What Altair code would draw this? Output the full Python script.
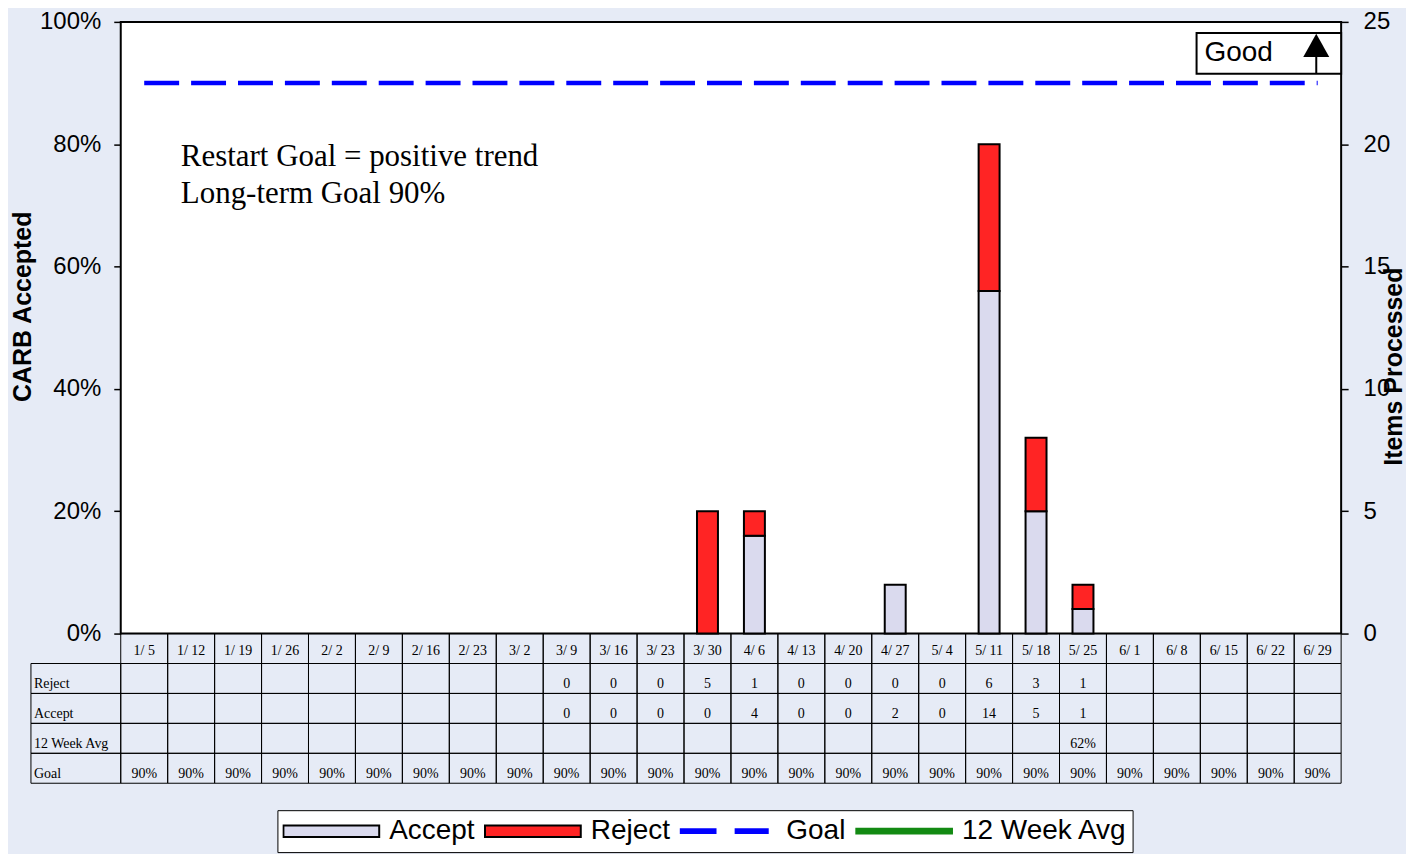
import altair as alt
import pandas as pd

# ---------------- data ----------------
WEEKS = ["1/ 5", "1/ 12", "1/ 19", "1/ 26", "2/ 2", "2/ 9", "2/ 16", "2/ 23", "3/ 2",
         "3/ 9", "3/ 16", "3/ 23", "3/ 30", "4/ 6", "4/ 13", "4/ 20", "4/ 27", "5/ 4",
         "5/ 11", "5/ 18", "5/ 25", "6/ 1", "6/ 8", "6/ 15", "6/ 22", "6/ 29"]
REJECT = [None] * 9 + [0, 0, 0, 5, 1, 0, 0, 0, 0, 6, 3, 1] + [None] * 5
ACCEPT = [None] * 9 + [0, 0, 0, 0, 4, 0, 0, 2, 0, 14, 5, 1] + [None] * 5
AVG_12WK = [None] * 20 + [0.62] + [None] * 5
GOAL = [0.90] * 26

SERIES = ["Accept", "Reject", "Goal", "12 Week Avg"]
SERIES_COLORS = ["#dadaee", "#ff2424", "#0000ff", "#138a13"]
TABLE_ROWS = ["Reject", "Accept", "12 Week Avg", "Goal"]
RIGHT_TICKS = [0, 5, 10, 15, 20, 25]
NOTE_LINES = ["Restart Goal = positive trend", "Long-term Goal 90%"]
GOOD_LABEL = "Good"
LEFT_TITLE = "CARB Accepted"
RIGHT_TITLE = "Items Processed"

# ---------------- layout constants ----------------
N = len(WEEKS)
ITEMS_MAX = 25          # right-axis maximum, equal to 100 % on the left axis
LABEL_COL = 1.913       # width of the table's row-label column, in week units
PLOT_W = 1313
PLOT_H = 613
TABLE_H = 150
BG = "#e6ebf6"
SANS = "Liberation Sans"
SERIF = "Liberation Serif"

x_scale = alt.Scale(domain=[-LABEL_COL, N], nice=False, zero=False, padding=0)
y_scale = alt.Scale(domain=[0, ITEMS_MAX], nice=False, zero=False, padding=0)


def X(field):
    return alt.X(field, type="quantitative", scale=x_scale, axis=None)


def Y(field, axis=None, **kw):
    return alt.Y(field, type="quantitative", scale=y_scale, axis=axis, **kw)


# ---------------- legend (per-entry symbols through expressions) ----------------
def pick(a, r, g, w):
    return ("datum.value === 'Accept' ? %s : datum.value === 'Reject' ? %s : "
            "datum.value === 'Goal' ? %s : %s" % (a, r, g, w))


RECT_PATH = "'M-1,-0.12H1V0.12H-1Z'"
GOAL_PATH = "'M-1,-0.04H-0.27V0.04H-1ZM0.15,-0.04H0.82V0.04H0.15Z'"
AVG_PATH = "'M-1,-0.05H1V0.05H-1Z'"
q = lambda c: "'%s'" % c
SHAPE_EXPR = pick(RECT_PATH, RECT_PATH, GOAL_PATH, AVG_PATH)
STROKE_EXPR = pick("'black'", "'black'", q(SERIES_COLORS[2]), q(SERIES_COLORS[3]))

legend = alt.Legend(
    title=None, orient="none", legendX=247, legendY=790, direction="horizontal",
    fillColor="white", strokeColor="black", padding=5,
    labelFont=SANS, labelFontSize=28, labelColor="black", labelOffset=9, labelLimit=0,
    symbolSize=9216, clipHeight=32, columnPadding=9, symbolStrokeWidth=2,
    symbolType={"expr": SHAPE_EXPR}, symbolStrokeColor={"expr": STROKE_EXPR},
    symbolOpacity=1,
)
color_enc = alt.Color("series:N", scale=alt.Scale(domain=SERIES, range=SERIES_COLORS),
                      legend=legend)

left_axis = alt.Axis(
    orient="left", offset=-LABEL_COL * PLOT_W / (N + LABEL_COL), values=RIGHT_TICKS,
    labelExpr="format(datum.value * 100 / %d, 'd') + '%%'" % ITEMS_MAX,
    domain=False, grid=False, ticks=True, tickSize=7, tickColor="black", tickWidth=1.5,
    labelFont=SANS, labelFontSize=24, labelColor="black", labelPadding=13,
    title=LEFT_TITLE, titleFont=SANS, titleFontSize=25, titleFontWeight="bold",
    titleColor="black", titleAngle=270, titleX=-98, titleY=285,
    titleAlign="center", titleBaseline="middle",
)
right_axis = alt.Axis(
    orient="right", values=RIGHT_TICKS, format="d",
    domain=False, grid=False, ticks=True, tickSize=7, tickColor="black", tickWidth=1.5,
    labelFont=SANS, labelFontSize=24, labelColor="black", labelPadding=15,
    title=RIGHT_TITLE, titleFont=SANS, titleFontSize=25, titleFontWeight="bold",
    titleColor="black", titleAngle=270, titleX=52, titleY=345,
    titleAlign="center", titleBaseline="middle",
)

# ---------------- main plot ----------------
plot_bg = alt.Chart(pd.DataFrame({"x0": [0], "x1": [N], "y0": [0], "y1": [ITEMS_MAX]})).mark_rect(
    fill="white", stroke="black", strokeWidth=2
).encode(x=X("x0"), x2="x1", y=Y("y0"), y2="y1")

bar_rows = []
for i, w in enumerate(WEEKS):
    for s, vals, o in (("Accept", ACCEPT, 0), ("Reject", REJECT, 1)):
        v = vals[i]
        if v is not None:
            bar_rows.append({"week": w, "xc": i + 0.5, "series": s, "n": v, "ord": o})
bars_df = pd.DataFrame(bar_rows)

bars = alt.Chart(bars_df).transform_filter("datum.n > 0").mark_bar(
    width=21, stroke="black", strokeWidth=2
).encode(
    x=X("xc"),
    y=Y("n", axis=left_axis, stack="zero"),
    color=color_enc,
    order=alt.Order("ord:Q"),
)

goal_df = pd.DataFrame({"xc": [i + 0.5 for i in range(N)],
                        "v": [g * ITEMS_MAX for g in GOAL]})
goal = alt.Chart(goal_df).mark_line(
    strokeDash=[35, 12], strokeWidth=4.5, color=SERIES_COLORS[2]
).encode(x=X("xc"), y=Y("v", axis=right_axis))

avg_df = pd.DataFrame([{"xc": i + 0.5, "v": a * ITEMS_MAX}
                       for i, a in enumerate(AVG_12WK) if a is not None])
avg = alt.Chart(avg_df).mark_line(strokeWidth=5, color=SERIES_COLORS[3]).encode(
    x=X("xc"), y=Y("v"))

note_df = pd.DataFrame({"x": [1.28, 1.28], "y": [19.13, 17.58], "t": NOTE_LINES})
note = alt.Chart(note_df).mark_text(
    align="left", baseline="alphabetic", font=SERIF, fontSize=31, color="black"
).encode(x=X("x"), y=Y("y"), text="t:N")

good_box = alt.Chart(pd.DataFrame({"x0": [22.92], "x1": [N], "y0": [22.88], "y1": [24.55]})).mark_rect(
    fill="white", stroke="black", strokeWidth=2
).encode(x=X("x0"), x2="x1", y=Y("y0"), y2="y1")
good_text = alt.Chart(pd.DataFrame({"x": [23.09], "y": [23.72], "t": [GOOD_LABEL]})).mark_text(
    align="left", baseline="middle", font=SANS, fontSize=28, color="black"
).encode(x=X("x"), y=Y("y"), text="t:N")
good_stem = alt.Chart(pd.DataFrame({"x": [25.47], "y0": [22.88], "y1": [23.8]})).mark_rule(
    color="black", strokeWidth=2
).encode(x=X("x"), y=Y("y0"), y2="y1")
good_head = alt.Chart(pd.DataFrame({"x": [25.47], "y": [24.04]})).mark_point(
    shape="M0,-0.9L1,0.9L-1,0.9Z", size=676, filled=True, color="black", opacity=1
).encode(x=X("x"), y=Y("y"))

main = alt.layer(
    plot_bg, bars, goal, avg, note, good_box, good_stem, good_head, good_text
).resolve_axis(y="independent").properties(width=PLOT_W, height=PLOT_H)

# ---------------- data table ----------------
ROW_IDS = ["hdr"] + TABLE_ROWS
cells = []
for i, w in enumerate(WEEKS):
    cells.append({"row": "hdr", "x0": i, "x1": i + 1, "txt": w})
    r, a, v, g = REJECT[i], ACCEPT[i], AVG_12WK[i], GOAL[i]
    cells.append({"row": "Reject", "x0": i, "x1": i + 1, "txt": "" if r is None else str(r)})
    cells.append({"row": "Accept", "x0": i, "x1": i + 1, "txt": "" if a is None else str(a)})
    cells.append({"row": "12 Week Avg", "x0": i, "x1": i + 1,
                  "txt": "" if v is None else "%d%%" % round(v * 100)})
    cells.append({"row": "Goal", "x0": i, "x1": i + 1,
                  "txt": "" if g is None else "%d%%" % round(g * 100)})
cells_df = pd.DataFrame(cells)
labels_df = pd.DataFrame({"row": TABLE_ROWS, "x0": [-LABEL_COL] * 4, "x1": [0] * 4, "txt": TABLE_ROWS})

ty = alt.Y("row:N", scale=alt.Scale(domain=ROW_IDS, paddingInner=0, paddingOuter=0), axis=None)

cell_rects = alt.Chart(pd.concat([cells_df, labels_df])).mark_rect(
    fill="transparent", stroke="black", strokeWidth=1
).encode(x=X("x0"), x2="x1", y=ty)
hdr_text = alt.Chart(cells_df).transform_filter("datum.row === 'hdr'").transform_calculate(
    xm="(datum.x0 + datum.x1) / 2"
).mark_text(
    align="center", baseline="middle", font=SERIF, fontSize=14, color="black", dy=2
).encode(x=X("xm"), y=ty, text="txt:N")
cell_text = alt.Chart(cells_df).transform_filter("datum.row !== 'hdr'").transform_calculate(
    xm="(datum.x0 + datum.x1) / 2"
).mark_text(
    align="center", baseline="middle", font=SERIF, fontSize=14, color="black", dy=6
).encode(x=X("xm"), y=ty, text="txt:N")
label_text = alt.Chart(labels_df).mark_text(
    align="left", baseline="middle", font=SERIF, fontSize=14, color="black", dx=3, dy=6
).encode(x=X("x0"), y=ty, text="txt:N")

table = alt.layer(cell_rects, hdr_text, cell_text, label_text).properties(
    width=PLOT_W, height=TABLE_H)

chart = alt.vconcat(main, table, spacing=0, bounds="flush").properties(
    padding={"left": 2, "top": 1, "right": 0, "bottom": 0},
    background=BG,
).configure_view(strokeWidth=0)

chart.save("out.html", embed_options={"renderer": "svg", "actions": False})
